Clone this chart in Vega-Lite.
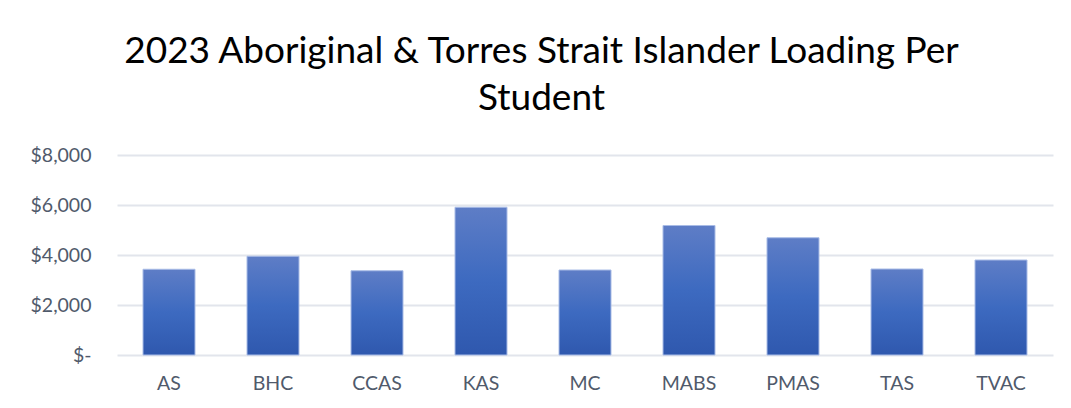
{
  "$schema": "https://vega.github.io/schema/vega-lite/v6.json",
  "autosize": {"type": "none"},
  "width": 936,
  "height": 200,
  "padding": {"left": 117, "top": 155, "right": 18, "bottom": 53},
  "background": "white",
  "title": {
    "text": ["2023 Aboriginal & Torres Strait Islander Loading Per", "Student"],
    "font": "Lato",
    "fontSize": 37,
    "fontWeight": "normal",
    "color": "#000000",
    "anchor": "middle",
    "frame": "bounds",
    "lineHeight": 47,
    "offset": 27
  },
  "data": {
    "values": [
      {"school": "AS", "loading": 3430},
      {"school": "BHC", "loading": 3950},
      {"school": "CCAS", "loading": 3370},
      {"school": "KAS", "loading": 5910},
      {"school": "MC", "loading": 3400},
      {"school": "MABS", "loading": 5180},
      {"school": "PMAS", "loading": 4690},
      {"school": "TAS", "loading": 3440},
      {"school": "TVAC", "loading": 3800}
    ]
  },
  "mark": {
    "type": "bar",
    "color": {
      "gradient": "linear",
      "x1": 0, "y1": 0, "x2": 0, "y2": 1,
      "stops": [
        {"offset": 0, "color": "#5E7DC6"},
        {"offset": 0.5, "color": "#3D6AC0"},
        {"offset": 1, "color": "#2F58AE"}
      ]
    },
    "stroke": "#A9BCE6",
    "strokeWidth": 1
  },
  "encoding": {
    "x": {
      "field": "school",
      "type": "nominal",
      "sort": null,
      "scale": {"paddingInner": 0.5, "paddingOuter": 0.25},
      "axis": {
        "title": null,
        "labelAngle": 0,
        "labelFont": "Lato",
        "labelFontSize": 19.5,
        "labelColor": "#505A6B",
        "labelPadding": 19,
        "ticks": false,
        "domain": false
      }
    },
    "y": {
      "field": "loading",
      "type": "quantitative",
      "scale": {"domain": [0, 8000], "nice": false},
      "axis": {
        "title": null,
        "values": [0, 2000, 4000, 6000, 8000],
        "labelExpr": "datum.value == 0 ? '$-' : '$' + format(datum.value, ',')",
        "labelFont": "Lato",
        "labelFontSize": 19.5,
        "labelColor": "#505A6B",
        "labelPadding": 26,
        "ticks": false,
        "domain": false,
        "grid": true,
        "gridColor": "#E2E5EC",
        "gridWidth": 2
      }
    }
  },
  "config": {"view": {"stroke": null}}
}
